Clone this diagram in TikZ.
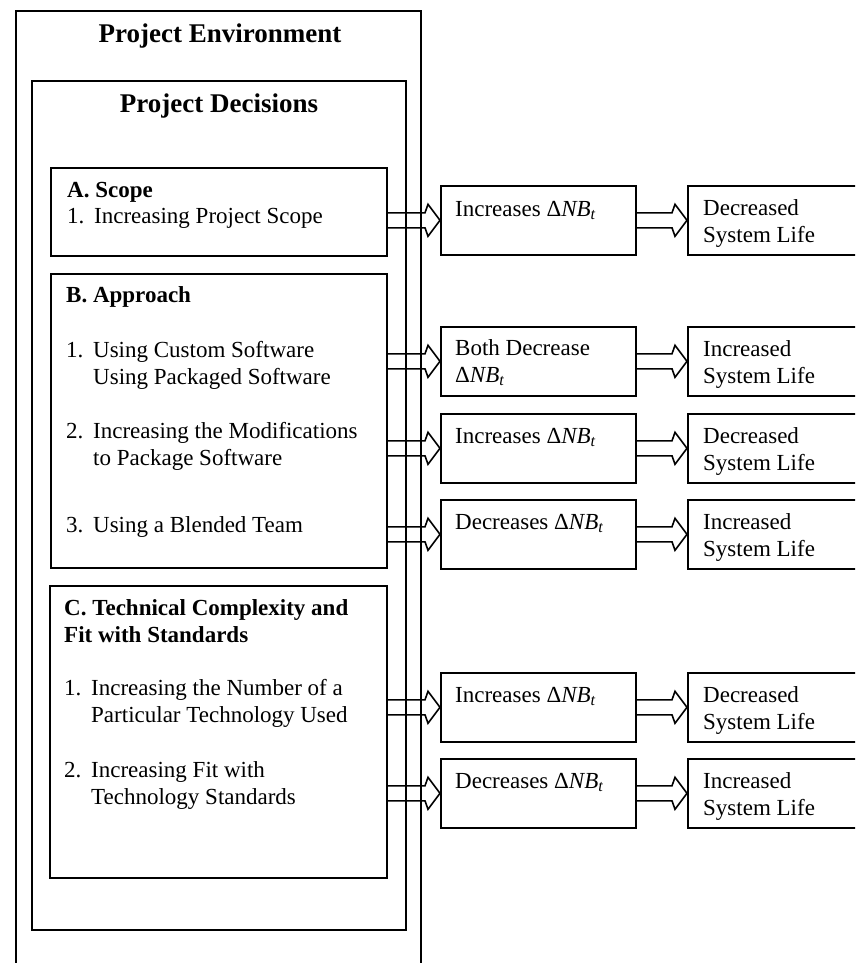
\documentclass[tikz,border=0pt]{standalone}
\usepackage{fontspec}
\setmainfont{Liberation Serif}
\usetikzlibrary{calc}

\newcommand{\dnb}{Δ{\itshape NB}\textsubscript{\itshape t}}
\newcommand{\twoline}[2]{\begin{tabular}[t]{@{}l@{}}#1\\#2\end{tabular}}
\newcommand{\hangitem}[3]{\begin{tabular}[t]{@{}p{27pt}@{}l@{}}#1&#2\\&#3\end{tabular}}

\tikzset{
  box/.style={draw, line width=1.6pt, anchor=north west, inner sep=0pt},
  txt/.style={anchor=base west, inner sep=0pt},
  head/.style={anchor=base, inner sep=0pt, font=\fontsize{27}{32}\selectfont\bfseries},
  hollow/.style={draw, line width=1.6pt, fill=white, line join=miter,
    to path={let \p1=(\tikztostart), \p2=(\tikztotarget) in
      (\x1,\y1+7.5pt) -- (\x2-15pt,\y1+7.5pt) -- (\x2-12pt,\y1+16pt) -- (\x2,\y1)
      -- (\x2-12pt,\y1-16pt) -- (\x2-15pt,\y1-7.5pt) -- (\x1,\y1-7.5pt)}}
}

\begin{document}
\begin{tikzpicture}[x=1pt, y=-1pt, font=\fontsize{23}{27}\selectfont]
  \useasboundingbox (0,0) rectangle (855,963);
  \clip (0,0) rectangle (855,963);

  \node[box, minimum width=405pt, minimum height=1000pt] (env) at (15,10) {};
  \node[head] (envtitle) at (220,43) {Project Environment};
  \node[box, minimum width=374pt, minimum height=849pt] (dec) at (31,80) {};
  \node[head] (dectitle) at (219,113) {Project Decisions};

  \node[box, minimum width=336pt, minimum height=88pt] (scope) at (50,167) {};
  \node[txt, font=\fontsize{23}{27}\selectfont\bfseries] (scopehd) at (67,197) {A. Scope};
  \node[txt] (scope1) at (67,223) {\hangitem{1.}{Increasing Project Scope}{}};

  \node[box, minimum width=336pt, minimum height=294pt] (appr) at (50,273) {};
  \node[txt, font=\fontsize{23}{27}\selectfont\bfseries] (apprhd) at (66,302) {B. Approach};
  \node[txt] (appr1) at (66,357) {\hangitem{1.}{Using Custom Software}{Using Packaged Software}};
  \node[txt] (appr2) at (66,438) {\hangitem{2.}{Increasing the Modifications}{to Package Software}};
  \node[txt] (appr3) at (66,532) {\hangitem{3.}{Using a Blended Team}{}};

  \node[box, minimum width=337pt, minimum height=292pt] (tech) at (49,585) {};
  \node[txt, font=\fontsize{23}{27}\selectfont\bfseries] (techhd) at (64,615)
    {\twoline{C. Technical Complexity and}{Fit with Standards}};
  \node[txt] (tech1) at (64,695) {\hangitem{1.}{Increasing the Number of a}{Particular Technology Used}};
  \node[txt] (tech2) at (64,777) {\hangitem{2.}{Increasing Fit with}{Technology Standards}};

  \node[box, minimum width=195pt, minimum height=69pt] (eff1) at (440,185) {};
  \node[box, minimum width=195pt, minimum height=69pt] (eff2) at (440,326) {};
  \node[box, minimum width=195pt, minimum height=69pt] (eff3) at (440,413) {};
  \node[box, minimum width=195pt, minimum height=69pt] (eff4) at (440,499) {};
  \node[box, minimum width=195pt, minimum height=69pt] (eff5) at (440,672) {};
  \node[box, minimum width=195pt, minimum height=69pt] (eff6) at (440,758) {};
  \node[txt] (eff1t) at ([shift={(15,31)}]eff1.north west) {Increases \dnb};
  \node[txt] (eff2t) at ([shift={(15,29)}]eff2.north west) {\twoline{Both Decrease}{\dnb}};
  \node[txt] (eff3t) at ([shift={(15,30)}]eff3.north west) {Increases \dnb};
  \node[txt] (eff4t) at ([shift={(15,30)}]eff4.north west) {Decreases \dnb};
  \node[txt] (eff5t) at ([shift={(15,30)}]eff5.north west) {Increases \dnb};
  \node[txt] (eff6t) at ([shift={(15,30)}]eff6.north west) {Decreases \dnb};

  \node[box, minimum width=220pt, minimum height=69pt] (life1) at (687,185) {};
  \node[box, minimum width=220pt, minimum height=69pt] (life2) at (687,326) {};
  \node[box, minimum width=220pt, minimum height=69pt] (life3) at (687,413) {};
  \node[box, minimum width=220pt, minimum height=69pt] (life4) at (687,499) {};
  \node[box, minimum width=220pt, minimum height=69pt] (life5) at (687,672) {};
  \node[box, minimum width=220pt, minimum height=69pt] (life6) at (687,758) {};
  \node[txt] (life1t) at ([shift={(16,30)}]life1.north west) {\twoline{Decreased}{System Life}};
  \node[txt] (life2t) at ([shift={(16,30)}]life2.north west) {\twoline{Increased}{System Life}};
  \node[txt] (life3t) at ([shift={(16,30)}]life3.north west) {\twoline{Decreased}{System Life}};
  \node[txt] (life4t) at ([shift={(16,30)}]life4.north west) {\twoline{Increased}{System Life}};
  \node[txt] (life5t) at ([shift={(16,30)}]life5.north west) {\twoline{Decreased}{System Life}};
  \node[txt] (life6t) at ([shift={(16,30)}]life6.north west) {\twoline{Increased}{System Life}};

  \begin{scope}[hollow]
    \draw (scope.east |- eff1.west) to (eff1.west);
    \draw (appr.east |- eff2.west) to (eff2.west);
    \draw (appr.east |- eff3.west) to (eff3.west);
    \draw (appr.east |- eff4.west) to (eff4.west);
    \draw (tech.east |- eff5.west) to (eff5.west);
    \draw (tech.east |- eff6.west) to (eff6.west);
    \draw (eff1.east) to (life1.west);
    \draw (eff2.east) to (life2.west);
    \draw (eff3.east) to (life3.west);
    \draw (eff4.east) to (life4.west);
    \draw (eff5.east) to (life5.west);
    \draw (eff6.east) to (life6.west);
  \end{scope}
\end{tikzpicture}
\end{document}
